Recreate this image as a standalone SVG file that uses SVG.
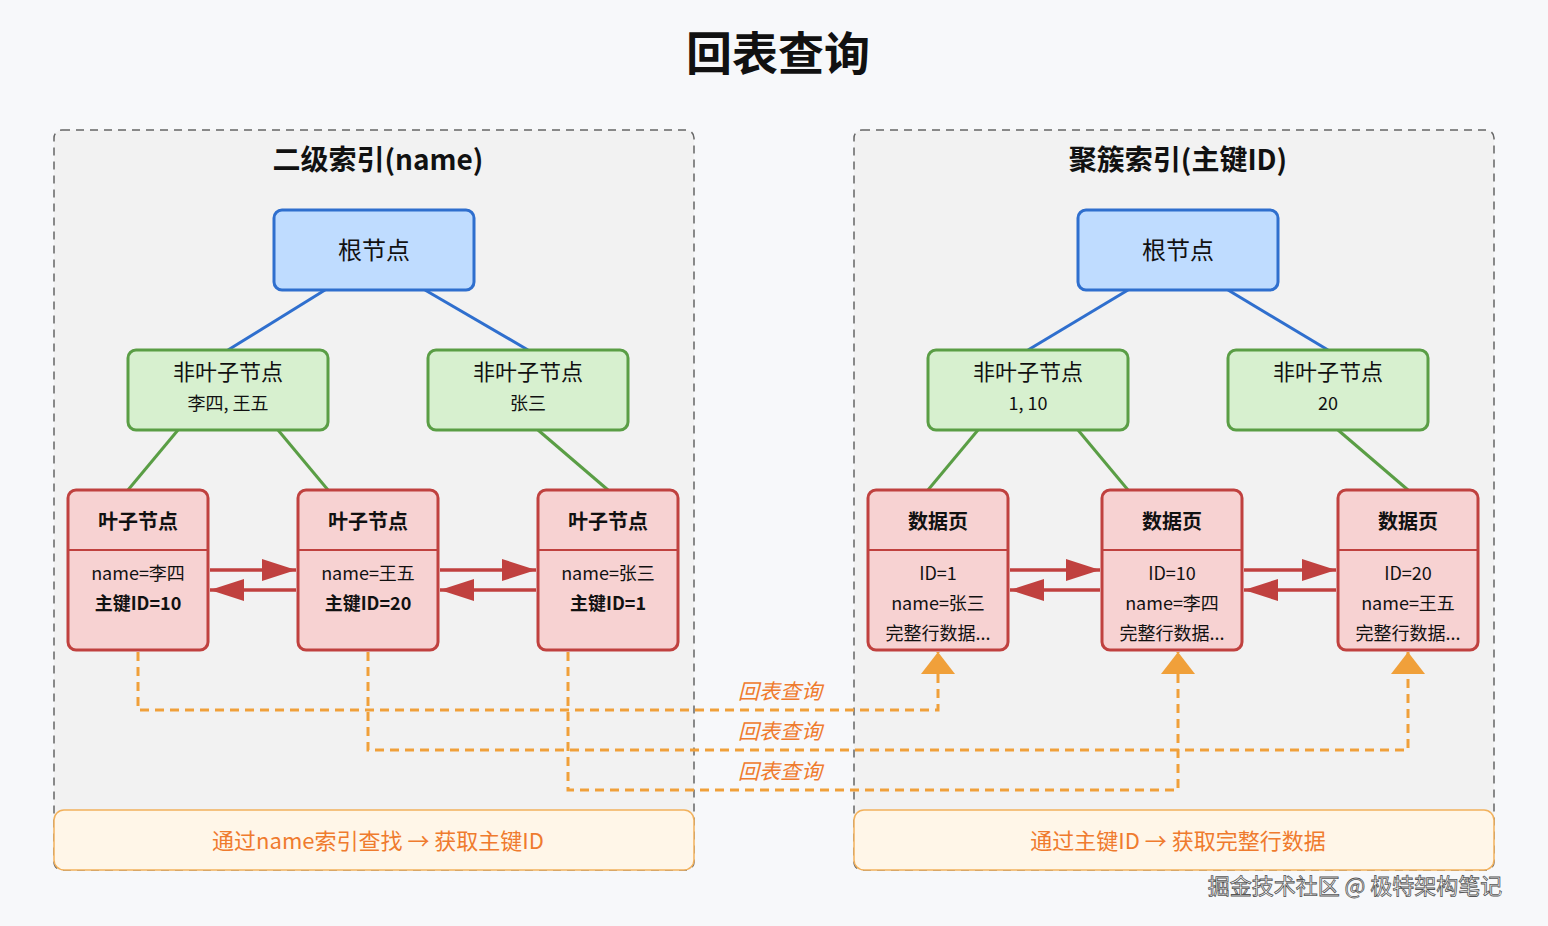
<svg xmlns="http://www.w3.org/2000/svg" width="1548" height="926" viewBox="0 0 1548 926">
<style>
text{font-family:"Noto Sans CJK SC","Liberation Sans",sans-serif;text-anchor:middle}
.panel{fill:#f2f2f2;stroke:#666;stroke-width:1.5;stroke-dasharray:8 6}
.root{fill:#bfdcff;stroke:#2f6fce;stroke-width:3}
.mid{fill:#d7f0cf;stroke:#5a9e45;stroke-width:3}
.leaf{fill:#f7d2d2;stroke:#c0413f;stroke-width:3}
.note{fill:#fff6e8;stroke:#f2b15c;stroke-width:1.5}
.t{font-size:24px;fill:#111}
.s{font-size:18px;fill:#111}
.b{font-size:20px;font-weight:bold;fill:#111}
.bl{stroke:#2f6fce;stroke-width:3}
.gl{stroke:#5a9e45;stroke-width:3}
.rl{stroke:#c0413f;stroke-width:3.5;fill:none}
.ol{stroke:#f0a03a;stroke-width:3;fill:none;stroke-dasharray:9 6}
.lab{font-size:21px;font-style:italic;fill:#ef7b2e}
</style>
<defs>
<marker id="ra" markerWidth="10" markerHeight="8" refX="9" refY="4" orient="auto" markerUnits="userSpaceOnUse" viewBox="0 0 10 8"><path d="M0,0L10,4L0,8z" fill="#c0413f"/></marker>
<marker id="oa" viewBox="0 0 10 10" refX="10" refY="5" markerWidth="22" markerHeight="34" orient="auto" markerUnits="userSpaceOnUse" preserveAspectRatio="none"><path d="M0,0L10,5L0,10z" fill="#f0a03a"/></marker>
<marker id="rb" viewBox="0 0 10 10" refX="10" refY="5" markerWidth="34" markerHeight="22" orient="auto" markerUnits="userSpaceOnUse" preserveAspectRatio="none"><path d="M0,0L10,5L0,10z" fill="#c0413f"/></marker>
</defs>
<rect width="1548" height="926" fill="#f7f8fa"/>
<text x="778" y="70" style="font-size:46px;font-weight:bold" fill="#111">回表查询</text>
<rect class="panel" x="54" y="130" width="640" height="740" rx="8"/>
<rect class="panel" x="854" y="130" width="640" height="740" rx="8"/>
<text x="378" y="170" style="font-size:28px;font-weight:bold" fill="#111">二级索引(name)</text>
<text x="1178" y="170" style="font-size:28px;font-weight:bold" fill="#111">聚簇索引(主键ID)</text>
<g id="connectors">
<line class="bl" x1="325" y1="290" x2="228" y2="350"/><line class="bl" x1="425" y1="290" x2="528" y2="350"/>
<line class="bl" x1="1128" y1="290" x2="1028" y2="350"/><line class="bl" x1="1228" y1="290" x2="1328" y2="350"/>
<line class="gl" x1="178" y1="430" x2="128" y2="490"/><line class="gl" x1="278" y1="430" x2="328" y2="490"/>
<line class="gl" x1="538" y1="430" x2="608" y2="490"/>
<line class="gl" x1="978" y1="430" x2="928" y2="490"/><line class="gl" x1="1078" y1="430" x2="1128" y2="490"/>
<line class="gl" x1="1338" y1="430" x2="1408" y2="490"/>
<line class="rl" x1="210" y1="570" x2="296" y2="570" marker-end="url(#rb)"/>
<line class="rl" x1="296" y1="590" x2="210" y2="590" marker-end="url(#rb)"/>
<line class="rl" x1="440" y1="570" x2="536" y2="570" marker-end="url(#rb)"/>
<line class="rl" x1="536" y1="590" x2="440" y2="590" marker-end="url(#rb)"/>
<line class="rl" x1="1010" y1="570" x2="1100" y2="570" marker-end="url(#rb)"/>
<line class="rl" x1="1100" y1="590" x2="1010" y2="590" marker-end="url(#rb)"/>
<line class="rl" x1="1244" y1="570" x2="1336" y2="570" marker-end="url(#rb)"/>
<line class="rl" x1="1336" y1="590" x2="1244" y2="590" marker-end="url(#rb)"/>
<path class="ol" d="M138,652V710H938V652" marker-end="url(#oa)"/>
<path class="ol" d="M368,652V750H1408V652" marker-end="url(#oa)"/>
<path class="ol" d="M568,652V790H1178V652" marker-end="url(#oa)"/>
<text class="lab" x="780" y="699">回表查询</text>
<text class="lab" x="780" y="739">回表查询</text>
<text class="lab" x="780" y="779">回表查询</text>
</g>
<g id="root1"><rect class="root" x="274" y="210" width="200" height="80" rx="8"/><text class="t" x="374" y="259">根节点</text></g>
<g id="root2"><rect class="root" x="1078" y="210" width="200" height="80" rx="8"/><text class="t" x="1178" y="259">根节点</text></g>
<g id="mid1"><rect class="mid" x="128" y="350" width="200" height="80" rx="8"/><text class="t" x="228" y="380" style="font-size:22px">非叶子节点</text><text class="s" x="228" y="410">李四, 王五</text></g>
<g id="mid2"><rect class="mid" x="428" y="350" width="200" height="80" rx="8"/><text class="t" x="528" y="380" style="font-size:22px">非叶子节点</text><text class="s" x="528" y="410">张三</text></g>
<g id="mid3"><rect class="mid" x="928" y="350" width="200" height="80" rx="8"/><text class="t" x="1028" y="380" style="font-size:22px">非叶子节点</text><text class="s" x="1028" y="410">1, 10</text></g>
<g id="mid4"><rect class="mid" x="1228" y="350" width="200" height="80" rx="8"/><text class="t" x="1328" y="380" style="font-size:22px">非叶子节点</text><text class="s" x="1328" y="410">20</text></g>
<g id="leaf1"><rect class="leaf" x="68" y="490" width="140" height="160" rx="8"/><line x1="68" y1="550" x2="208" y2="550" stroke="#c0413f" stroke-width="2"/><text class="b" x="138" y="529">叶子节点</text><text class="s" x="138" y="580">name=李四</text><text class="s" x="138" y="610" font-weight="bold">主键ID=10</text></g>
<g id="leaf2"><rect class="leaf" x="298" y="490" width="140" height="160" rx="8"/><line x1="298" y1="550" x2="438" y2="550" stroke="#c0413f" stroke-width="2"/><text class="b" x="368" y="529">叶子节点</text><text class="s" x="368" y="580">name=王五</text><text class="s" x="368" y="610" font-weight="bold">主键ID=20</text></g>
<g id="leaf3"><rect class="leaf" x="538" y="490" width="140" height="160" rx="8"/><line x1="538" y1="550" x2="678" y2="550" stroke="#c0413f" stroke-width="2"/><text class="b" x="608" y="529">叶子节点</text><text class="s" x="608" y="580">name=张三</text><text class="s" x="608" y="610" font-weight="bold">主键ID=1</text></g>
<g id="data1"><rect class="leaf" x="868" y="490" width="140" height="160" rx="8"/><line x1="868" y1="550" x2="1008" y2="550" stroke="#c0413f" stroke-width="2"/><text class="b" x="938" y="529">数据页</text><text class="s" x="938" y="580">ID=1</text><text class="s" x="938" y="610">name=张三</text><text class="s" x="938" y="640">完整行数据...</text></g>
<g id="data2"><rect class="leaf" x="1102" y="490" width="140" height="160" rx="8"/><line x1="1102" y1="550" x2="1242" y2="550" stroke="#c0413f" stroke-width="2"/><text class="b" x="1172" y="529">数据页</text><text class="s" x="1172" y="580">ID=10</text><text class="s" x="1172" y="610">name=李四</text><text class="s" x="1172" y="640">完整行数据...</text></g>
<g id="data3"><rect class="leaf" x="1338" y="490" width="140" height="160" rx="8"/><line x1="1338" y1="550" x2="1478" y2="550" stroke="#c0413f" stroke-width="2"/><text class="b" x="1408" y="529">数据页</text><text class="s" x="1408" y="580">ID=20</text><text class="s" x="1408" y="610">name=王五</text><text class="s" x="1408" y="640">完整行数据...</text></g>
<g id="note1"><rect class="note" x="54" y="810" width="640" height="60" rx="10"/><text x="378" y="849" style="font-size:22px" fill="#ef7b2e">通过name索引查找 → 获取主键ID</text></g>
<g id="note2"><rect class="note" x="854" y="810" width="640" height="60" rx="10"/><text x="1178" y="849" style="font-size:22px" fill="#ef7b2e">通过主键ID → 获取完整行数据</text></g>
<text x="1355" y="894" style="font-size:22px" fill="#fff" stroke="#555" stroke-width="0.8">掘金技术社区 @ 极特架构笔记</text>
</svg>
